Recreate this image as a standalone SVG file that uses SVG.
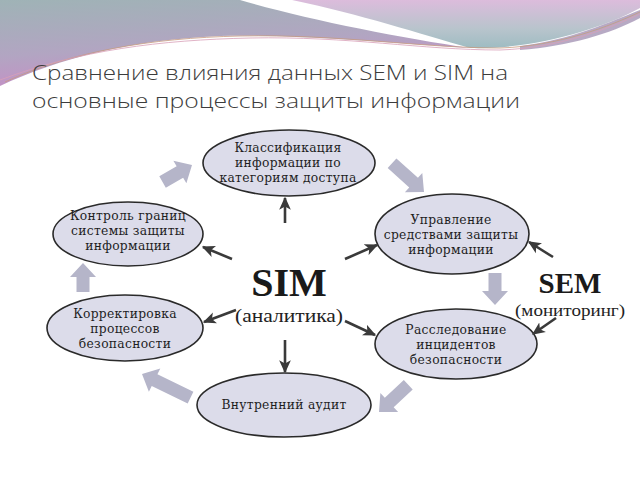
<svg xmlns="http://www.w3.org/2000/svg" width="640" height="480" viewBox="0 0 640 480">
<defs>
<linearGradient id="gL" x1="0" y1="0" x2="0.3" y2="1">
<stop offset="0" stop-color="#9fb3b6"/>
<stop offset="0.6" stop-color="#b2a5c2"/>
<stop offset="1" stop-color="#c58fc6"/>
</linearGradient>
<linearGradient id="gR" x1="0" y1="0" x2="0" y2="1">
<stop offset="0" stop-color="#dcbcdc"/>
<stop offset="0.6" stop-color="#b8c4cc"/>
<stop offset="1" stop-color="#9ebcc2"/>
</linearGradient>
<marker id="ah" viewBox="0 0 10 10" refX="9" refY="5" markerWidth="5" markerHeight="5" orient="auto" markerUnits="strokeWidth">
<path d="M0,0.5 L10,5 L0,9.5 L2.5,5 Z" fill="#3a3a3a"/>
</marker>
</defs>
<style>
.el{fill:#dcdcea;stroke:#2a2a2a;stroke-width:1.6}
.t{font-family:"DejaVu Serif","Liberation Serif",serif;font-size:12.3px;letter-spacing:0.3px;fill:#1e1e1e;text-anchor:middle}
.da{stroke:#3a3a3a;stroke-width:2.6;fill:none;marker-end:url(#ah)}
.ga{fill:#b5b5c9}
.title{font-family:"Open Sans","Liberation Sans",sans-serif;font-weight:300;font-size:21px;fill:#3c3c3c}
</style>
<rect width="640" height="480" fill="#ffffff"/>
<g id="header">
<path d="M0,0 L240,0 C300,18 400,38 470,48 C400,44 300,34 220,36 C130,40 60,58 0,86 Z" fill="url(#gL)"/>
<path d="M292,0 L640,0 L640,8 C600,30 530,50 470,48 C420,34 360,14 292,0 Z" fill="url(#gR)"/>
<path d="M520,46 C570,40 610,22 640,10 L640,18 C610,34 570,46 520,50 Z" fill="#a595b5" opacity="0.8"/>
<path d="M5,82 C70,52 150,38 240,36 C340,34 420,48 500,48 C560,46 610,26 640,12" fill="none" stroke="#c79a80" stroke-width="0.8"/>
<path d="M0,80 C80,50 160,40 250,38 C350,36 420,50 500,50 C560,48 610,28 640,14" fill="none" stroke="#d8a0b8" stroke-width="0.8"/>
</g>
<text class="title" x="32" y="80" textLength="476" lengthAdjust="spacingAndGlyphs">Сравнение влияния данных SEM и SIM на</text>
<text class="title" x="32" y="108" textLength="488" lengthAdjust="spacingAndGlyphs">основные процессы защиты информации</text>

<g id="n-class">
<ellipse class="el" cx="289" cy="163" rx="86" ry="33"/>
<text class="t" x="288" y="152">Классификация</text>
<text class="t" x="288" y="167">информации по</text>
<text class="t" x="288" y="182">категориям доступа</text>
</g>
<g id="n-upr">
<ellipse class="el" cx="452" cy="234" rx="77" ry="40"/>
<text class="t" x="451" y="224">Управление</text>
<text class="t" x="451" y="239">средствами защиты</text>
<text class="t" x="451" y="254">информации</text>
</g>
<g id="n-kontr">
<ellipse class="el" cx="128" cy="234" rx="75" ry="32"/>
<text class="t" x="128" y="220">Контроль границ</text>
<text class="t" x="128" y="235">системы защиты</text>
<text class="t" x="128" y="250">информации</text>
</g>
<g id="n-korr">
<ellipse class="el" cx="125" cy="328" rx="78" ry="33"/>
<text class="t" x="125" y="318">Корректировка</text>
<text class="t" x="125" y="333">процессов</text>
<text class="t" x="125" y="348">безопасности</text>
</g>
<g id="n-rass">
<ellipse class="el" cx="456" cy="344" rx="81" ry="35"/>
<text class="t" x="456" y="334">Расследование</text>
<text class="t" x="456" y="349">инцидентов</text>
<text class="t" x="456" y="364">безопасности</text>
</g>
<g id="n-audit">
<ellipse class="el" cx="284" cy="405" rx="87" ry="32"/>
<text class="t" x="284" y="409">Внутренний аудит</text>
</g>

<g id="connectors">
<line class="da" x1="285" y1="223" x2="285" y2="198"/>
<line class="da" x1="232" y1="259" x2="203" y2="247"/>
<line class="da" x1="345" y1="259" x2="377" y2="245"/>
<line class="da" x1="236" y1="310" x2="204" y2="322"/>
<line class="da" x1="345" y1="321" x2="375" y2="335"/>
<line class="da" x1="285" y1="340" x2="285" y2="372"/>
<line class="da" x1="553" y1="257" x2="529" y2="242"/>
<line class="da" x1="556" y1="318" x2="533" y2="334"/>
<polygon class="ga" points="-34,-6.5 -14,-6.5 -14,-13 0,0 -14,13 -14,6.5 -34,6.5" transform="translate(192,165) rotate(-30)"/>
<polygon class="ga" points="-43,-6.5 -14,-6.5 -14,-13 0,0 -14,13 -14,6.5 -43,6.5" transform="translate(424,192) rotate(42)"/>
<polygon class="ga" points="-32,-6.5 -14,-6.5 -14,-13 0,0 -14,13 -14,6.5 -32,6.5" transform="translate(495,305) rotate(90)"/>
<polygon class="ga" points="-40,-6.5 -14,-6.5 -14,-13 0,0 -14,13 -14,6.5 -40,6.5" transform="translate(379,412) rotate(137)"/>
<polygon class="ga" points="-54,-6.5 -14,-6.5 -14,-13 0,0 -14,13 -14,6.5 -54,6.5" transform="translate(142,374) rotate(-154)"/>
<polygon class="ga" points="-29,-6.5 -14,-6.5 -14,-13 0,0 -14,13 -14,6.5 -29,6.5" transform="translate(83,263) rotate(-90)"/>
</g>

<g id="sim">
<text x="289" y="296" font-family="Liberation Serif,serif" font-weight="bold" font-size="40" fill="#1a1a1a" text-anchor="middle">SIM</text>
<text x="289" y="322" font-family="Liberation Serif,serif" font-size="19" fill="#222" text-anchor="middle" textLength="108" lengthAdjust="spacingAndGlyphs">(аналитика)</text>
</g>
<g id="sem">
<text x="570" y="293" font-family="Liberation Serif,serif" font-weight="bold" font-size="29" fill="#1a1a1a" text-anchor="middle">SEM</text>
<text x="570" y="316" font-family="Liberation Serif,serif" font-size="16" fill="#222" text-anchor="middle" textLength="110" lengthAdjust="spacingAndGlyphs">(мониторинг)</text>
</g>
</svg>
